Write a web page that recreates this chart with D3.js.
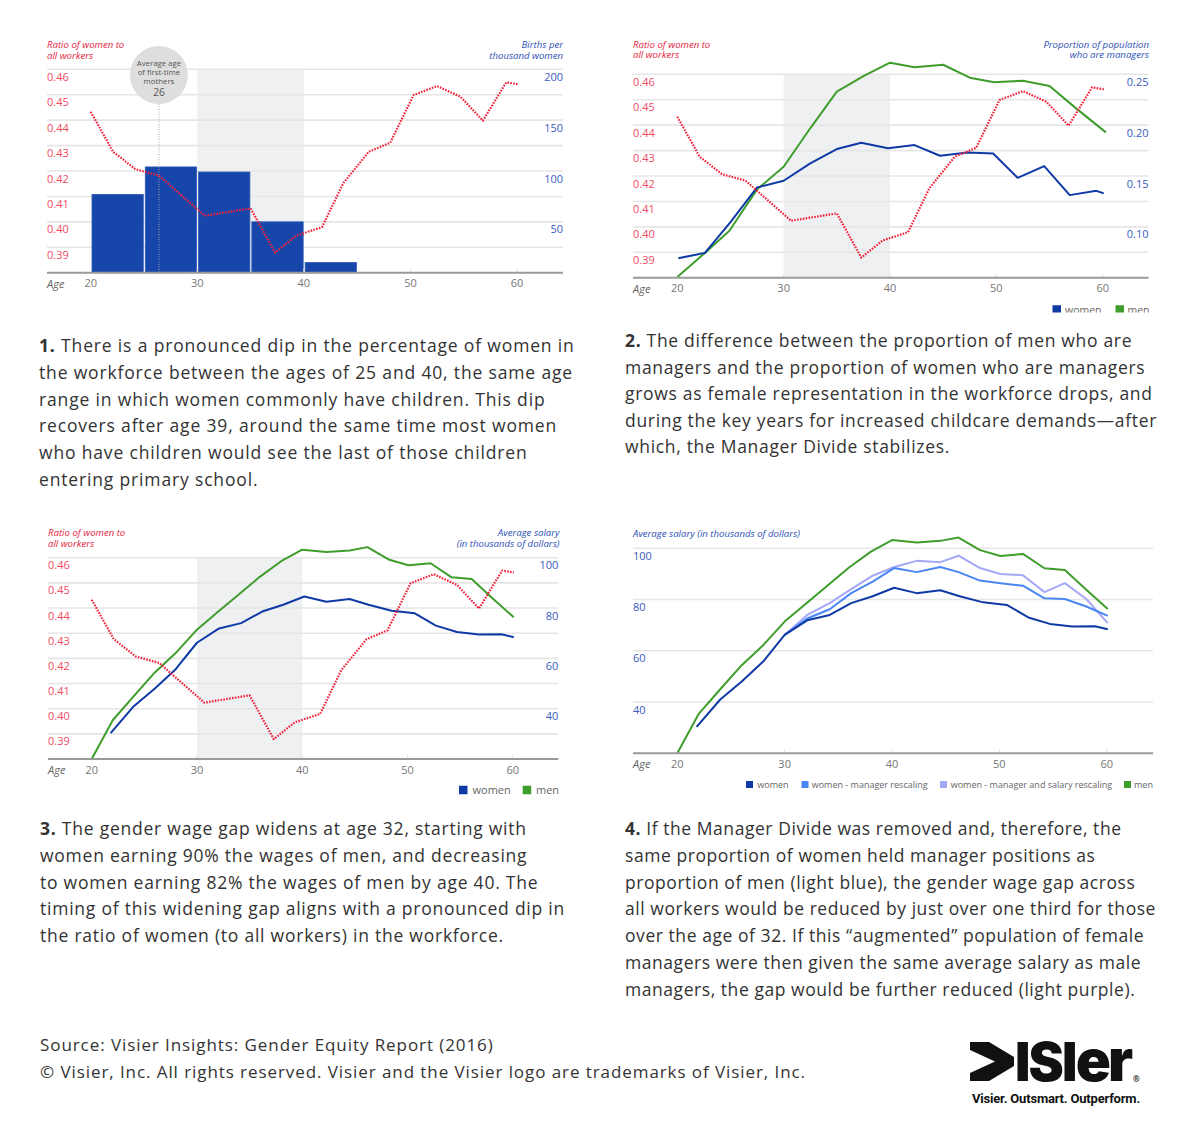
<!DOCTYPE html>
<html><head><meta charset="utf-8">
<script src="https://cdn.jsdelivr.net/npm/d3@7"></script>
<style>body{margin:0;background:#fff} svg{display:block}</style>
</head><body>
<svg id="c" width="1200" height="1134"></svg>
<script>
// ---------------- DATA ----------------
const ageTicks = [20, 30, 40, 50, 60];
const ratioTicks = [0.46, 0.45, 0.44, 0.43, 0.42, 0.41, 0.40, 0.39];
const ratioAges   = [20.0, 22.1, 24.2, 26.4, 30.7, 35.0, 37.3, 39.3, 41.7, 43.7, 46.1, 48.1, 50.3, 52.5, 54.7, 56.8, 59.0, 60.1];
const ratioValues = [0.4433, 0.4276, 0.4207, 0.4182, 0.4024, 0.4053, 0.3879, 0.3946, 0.3979, 0.4152, 0.4276, 0.4311, 0.4499, 0.4534, 0.4492, 0.4398, 0.4549, 0.4541];

const birthBinStart = [20, 25, 30, 35, 40];
const birthBinEnd   = [25, 30, 35, 40, 45];
const birthRates    = [77, 104, 99, 50, 10];
const birthTicks    = [200, 150, 100, 50];
const firstBirthAge = 26.4;
const firstBirthLabel = ["Average age", "of first-time", "mothers"];
const firstBirthValue = "26";

const mgrWomenAges   = [20.1, 22.6, 25.0, 27.5, 30.0, 32.5, 35.0, 37.3, 39.8, 42.3, 44.7, 47.3, 49.7, 52.0, 54.5, 56.9, 59.4, 60.1];
const mgrWomenValues = [0.0692, 0.0744, 0.1046, 0.1388, 0.1453, 0.1624, 0.1765, 0.1827, 0.1772, 0.1804, 0.1699, 0.1732, 0.1722, 0.1482, 0.1597, 0.1312, 0.1354, 0.1329];
const mgrMenAges     = [20.0, 22.6, 24.9, 27.5, 30.0, 32.5, 35.0, 37.5, 40.0, 42.3, 45.0, 47.5, 49.8, 52.5, 55.0, 57.5, 60.3];
const mgrMenValues   = [0.0508, 0.0744, 0.0961, 0.1368, 0.1591, 0.1969, 0.2329, 0.2483, 0.2614, 0.2569, 0.2594, 0.2467, 0.2421, 0.2437, 0.2385, 0.2165, 0.1929];
const mgrTicks = [0.25, 0.20, 0.15, 0.10];

const salWomenAges   = [21.8, 24.0, 26.0, 28.0, 30.0, 32.1, 34.2, 36.2, 38.2, 40.2, 42.3, 44.5, 46.3, 48.5, 50.7, 52.7, 54.7, 56.8, 58.9, 60.1];
const salWomenValues = [30.3, 41.0, 48.0, 55.8, 66.2, 71.9, 74.0, 78.6, 81.3, 84.6, 82.5, 83.6, 81.3, 78.9, 77.9, 73.0, 70.5, 69.5, 69.6, 68.4];
const salMenAges     = [20, 22, 24, 26, 28, 30, 32, 34, 36, 38, 40, 42.3, 44.5, 46.2, 48.2, 50.1, 52.2, 54.2, 56.1, 58.1, 60.1];
const salMenValues   = [20, 35.4, 45.0, 54.4, 62.2, 71.4, 78.5, 85.5, 92.5, 98.6, 103.2, 102.3, 102.9, 104.2, 99.3, 97.0, 97.8, 92.2, 91.5, 83.8, 76.3];
const salRescaleAges = [30, 32.1, 34.2, 36.2, 38.2, 40.2, 42.3, 44.5, 46.2, 48.2, 50.1, 52.2, 54.2, 56.1, 58.1, 60.1];
const salMgrRescale    = [66.2, 72.6, 76.2, 82.5, 87.0, 92.3, 90.7, 92.7, 90.7, 87.4, 86.4, 85.4, 80.5, 80.2, 77.3, 73.6];
const salMgrSalRescale = [66.2, 74.0, 78.6, 84.1, 89.3, 92.7, 95.1, 94.6, 97.1, 92.3, 90.0, 89.5, 82.9, 86.4, 80.2, 70.8];
const salaryTicks = [100, 80, 60, 40];

const para1 = ["There is a pronounced dip in the percentage of women in",
  "the workforce between the ages of 25 and 40, the same age",
  "range in which women commonly have children. This dip",
  "recovers after age 39, around the same time most women",
  "who have children would see the last of those children",
  "entering primary school."];
const para2 = ["The difference between the proportion of men who are",
  "managers and the proportion of women who are managers",
  "grows as female representation in the workforce drops, and",
  "during the key years for increased childcare demands\u2014after",
  "which, the Manager Divide stabilizes."];
const para3 = ["The gender wage gap widens at age 32, starting with",
  "women earning 90% the wages of men, and decreasing",
  "to women earning 82% the wages of men by age 40. The",
  "timing of this widening gap aligns with a pronounced dip in",
  "the ratio of women (to all workers) in the workforce."];
const para4 = ["If the Manager Divide was removed and, therefore, the",
  "same proportion of women held manager positions as",
  "proportion of men (light blue), the gender wage gap across",
  "all workers would be reduced by just over one third for those",
  "over the age of 32. If this \u201caugmented\u201d population of female",
  "managers were then given the same average salary as male",
  "managers, the gap would be further reduced (light purple)."];
const sourceLines = ["Source: Visier Insights: Gender Equity Report (2016)",
  "\u00a9 Visier, Inc. All rights reserved. Visier and the Visier logo are trademarks of Visier, Inc."];

// ---------------- STYLE ----------------
const C = {
  red: "#e4223c", redTick: "#ef4a5f", blueTitle: "#2c4fb3", blueTick: "#3a5cbf",
  grid: "#e6e6e6", base: "#9a9a9a", shade: "#eff0f2", axisText: "#777",
  women: "#0f3aa6", men: "#3f9d2c", mgr: "#4a86f3", mgrSal: "#a5a7f7",
  bar: "#1746ab", dots: "#f2213b", text: "#333"
};
const FONT = "'Open Sans', 'Noto Sans', sans-serif";
const svg = d3.select("#c").style("font-family", FONT);
svg.append("rect").attr("width", 1200).attr("height", 1134).attr("fill", "#fff");

function panel(o) {
  const g = svg.append("g");
  if (o.clipBottom) {
    const id = "clip" + Math.round(o.left);
    svg.append("defs").append("clipPath").attr("id", id)
      .append("rect").attr("x", 0).attr("y", 0).attr("width", 1200).attr("height", o.clipBottom);
    g.attr("clip-path", `url(#${id})`);
  }
  const x = d3.scaleLinear().domain([20, 60]).range(o.xr);
  const top = o.gridY[0], bottom = o.baseY;
  if (o.shade) {
    g.append("rect").attr("x", x(30)).attr("y", top).attr("width", x(40) - x(30))
      .attr("height", bottom - top).attr("fill", C.shade);
  }
  g.selectAll(null).data(o.gridY).join("line")
    .attr("x1", o.left).attr("x2", o.right).attr("y1", d => d).attr("y2", d => d)
    .attr("stroke", C.grid).attr("stroke-width", 1.6);
  return { g, x };
}
function finishAxis(p, o) {
  const { g, x } = p;
  g.selectAll(null).data(ageTicks.slice(1)).join("line")
    .attr("x1", d => x(d)).attr("x2", d => x(d)).attr("y1", o.baseY - 4).attr("y2", o.baseY)
    .attr("stroke", "#e0e0e0").attr("stroke-width", 1);
  g.append("line").attr("x1", o.left).attr("x2", o.right).attr("y1", o.baseY).attr("y2", o.baseY)
    .attr("stroke", C.base).attr("stroke-width", 2);
  g.selectAll(null).data(ageTicks).join("text")
    .attr("x", d => x(d)).attr("y", o.baseY + 14.5).attr("text-anchor", "middle")
    .attr("font-size", 11).attr("fill", C.axisText).text(d => d);
  g.append("text").attr("x", o.left).attr("y", o.baseY + 15).attr("font-size", 11)
    .attr("font-style", "italic").attr("fill", "#666").text("Age");
}
function leftTicks(g, o, scale, ticks, fmt, color) {
  g.selectAll(null).data(ticks).join("text")
    .attr("x", o.left).attr("y", d => scale(d) + 11.5).attr("font-size", 11)
    .attr("fill", color).text(fmt);
}
function rightTicks(g, o, scale, ticks, fmt, color) {
  g.selectAll(null).data(ticks).join("text")
    .attr("x", o.right).attr("y", d => scale(d) + 11.5).attr("font-size", 11)
    .attr("text-anchor", "end").attr("fill", color).text(fmt);
}
function title(g, x, y, lines, color, anchor) {
  lines.forEach((l, i) => g.append("text").attr("x", x).attr("y", y + i * 10.8)
    .attr("font-size", 9.6).attr("font-style", "italic").attr("fill", color)
    .attr("text-anchor", anchor || "start").text(l));
}
function lineSeries(g, x, y, ages, vals, color, width, dash) {
  const data = ages.map((a, i) => [a, vals[i]]);
  const p = g.append("path").datum(data)
    .attr("d", d3.line().x(d => x(d[0])).y(d => y(d[1])))
    .attr("fill", "none").attr("stroke", color).attr("stroke-width", width)
    .attr("stroke-linejoin", "round");
  if (dash) p.attr("stroke-dasharray", dash);
  return p;
}
function legend(g, items, cy, size, fontSize) {
  items.forEach(it => {
    g.append("rect").attr("x", it.x).attr("y", cy - size / 2 - 0.5).attr("width", size).attr("height", size).attr("fill", it.color);
    g.append("text").attr("x", it.tx).attr("y", cy + fontSize * 0.36).attr("font-size", fontSize)
      .attr("fill", "#666").text(it.label);
  });
}
const fmt2 = d => d.toFixed(2);

// ---------- Chart 1 ----------
{
  const o = { left: 47, right: 563, xr: [90.7, 517], baseY: 272.7, gridY: [], shade: true };
  const yL = d3.scaleLinear().domain([0.38, 0.46]).range([272.7, 69.3]);
  const yR = d3.scaleLinear().domain([0, 200]).range([272.7, 69.3]);
  o.gridY = ratioTicks.map(yL);
  const p = panel(o); const { g, x } = p;
  g.selectAll(null).data(birthRates).join("rect")
    .attr("x", (d, i) => x(birthBinStart[i]) + 1.3)
    .attr("width", (d, i) => x(birthBinEnd[i]) - x(birthBinStart[i]) - 2)
    .attr("y", d => yR(d)).attr("height", d => yR(0) - yR(d))
    .attr("fill", C.bar).attr("stroke", "#2c58b8").attr("stroke-width", 0.8);
  const cx = x(firstBirthAge);
  g.append("line").attr("x1", cx).attr("x2", cx).attr("y1", 104).attr("y2", 272)
    .attr("stroke", "#a8a8a8").attr("stroke-width", 1).attr("stroke-dasharray", "1,1.5");
  g.append("circle").attr("cx", cx).attr("cy", 75).attr("r", 29).attr("fill", "#dedede");
  firstBirthLabel.forEach((l, i) => g.append("text").attr("x", cx).attr("y", 66 + i * 8.8)
    .attr("text-anchor", "middle").attr("font-size", 7.8).attr("fill", "#555").text(l));
  g.append("text").attr("x", cx).attr("y", 95.5).attr("text-anchor", "middle")
    .attr("font-size", 10).attr("fill", "#555").text(firstBirthValue);
  lineSeries(g, x, yL, ratioAges, ratioValues, C.dots, 2.2, "1.6,1.3");
  finishAxis(p, o);
  leftTicks(g, o, yL, ratioTicks, fmt2, C.redTick);
  rightTicks(g, o, yR, birthTicks, d => d, C.blueTick);
  title(g, 47, 48, ["Ratio of women to", "all workers"], C.red);
  title(g, 563, 48, ["Births per", "thousand women"], C.blueTitle, "end");
}

// ---------- Chart 2 ----------
{
  const o = { left: 633, right: 1148.5, xr: [677.3, 1102.7], baseY: 277.7, gridY: [], shade: true, clipBottom: 312.5 };
  const yL = d3.scaleLinear().domain([0.38, 0.46]).range([277.7, 74.3]);
  const yR = d3.scaleLinear().domain([0.05, 0.25]).range([277.7, 74.3]);
  o.gridY = ratioTicks.map(yL);
  const p = panel(o); const { g, x } = p;
  lineSeries(g, x, yR, mgrMenAges, mgrMenValues, C.men, 2);
  lineSeries(g, x, yR, mgrWomenAges, mgrWomenValues, C.women, 2);
  lineSeries(g, x, yL, ratioAges, ratioValues, C.dots, 2.2, "1.6,1.3");
  finishAxis(p, o);
  leftTicks(g, o, yL, ratioTicks, fmt2, C.redTick);
  rightTicks(g, o, yR, mgrTicks, fmt2, C.blueTick);
  title(g, 633, 47.5, ["Ratio of women to", "all workers"], C.red);
  title(g, 1149, 47.5, ["Proportion of population", "who are managers"], C.blueTitle, "end");
  legend(g, [{ x: 1052.5, tx: 1065, color: C.women, label: "women" },
             { x: 1115.5, tx: 1127.5, color: C.men, label: "men" }], 310, 8.5, 10.5);
}

// ---------- Chart 3 ----------
{
  const o = { left: 48, right: 558.3, xr: [91.7, 512.7], baseY: 759, gridY: [], shade: true };
  const yL = d3.scaleLinear().domain([0.38, 0.46]).range([759, 557.7]);
  const yR = d3.scaleLinear().domain([20, 100]).range([759, 557.7]);
  o.gridY = ratioTicks.map(yL);
  const p = panel(o); const { g, x } = p;
  lineSeries(g, x, yR, salMenAges, salMenValues, C.men, 2);
  lineSeries(g, x, yR, salWomenAges, salWomenValues, C.women, 2);
  lineSeries(g, x, yL, ratioAges, ratioValues, C.dots, 2.2, "1.6,1.3");
  finishAxis(p, o);
  leftTicks(g, o, yL, ratioTicks, fmt2, C.redTick);
  rightTicks(g, o, yR, salaryTicks, d => d, C.blueTick);
  title(g, 48, 536, ["Ratio of women to", "all workers"], C.red);
  title(g, 559.5, 536, ["Average salary", "(in thousands of dollars)"], C.blueTitle, "end");
  legend(g, [{ x: 459, tx: 472.5, color: C.women, label: "women" },
             { x: 522.7, tx: 536, color: C.men, label: "men" }], 790.5, 8.5, 11);
}

// ---------- Chart 4 ----------
{
  const o = { left: 633, right: 1153, xr: [677.3, 1106.7], baseY: 753.3, gridY: [], shade: false };
  const y = d3.scaleLinear().domain([20, 100]).range([753.3, 548.3]);
  o.gridY = salaryTicks.map(y);
  const p = panel(o); const { g, x } = p;
  lineSeries(g, x, y, salMenAges, salMenValues, C.men, 2);
  lineSeries(g, x, y, salRescaleAges, salMgrSalRescale, C.mgrSal, 2);
  lineSeries(g, x, y, salRescaleAges, salMgrRescale, C.mgr, 2);
  lineSeries(g, x, y, salWomenAges, salWomenValues, C.women, 2);
  finishAxis(p, o);
  leftTicks(g, o, y, salaryTicks, d => d, C.blueTick);
  title(g, 633, 536.5, ["Average salary (in thousands of dollars)"], C.blueTitle);
  legend(g, [{ x: 746, tx: 757.3, color: C.women, label: "women" },
             { x: 801.5, tx: 811.7, color: C.mgr, label: "women - manager rescaling" },
             { x: 940, tx: 950.7, color: C.mgrSal, label: "women - manager and salary rescaling" },
             { x: 1124, tx: 1134, color: C.men, label: "men" }], 785, 7, 9);
}

// ---------- Paragraphs ----------
function para(num, lines, x, y0, lh, targetIdx, targetW) {
  const t = svg.append("text").attr("x", x).attr("y", y0).attr("font-size", 17.5).attr("fill", C.text);
  lines.forEach((l, i) => {
    const line = t.append("tspan").attr("x", x).attr("y", y0 + i * lh);
    if (i === 0) line.append("tspan").attr("font-weight", 700).text(num + ". ");
    line.append("tspan").text(l);
  });
  const tmp = svg.append("text").attr("font-size", 17.5).text((targetIdx === 0 ? num + ". " : "") + lines[targetIdx]);
  const w = tmp.node().getComputedTextLength();
  const n = lines[targetIdx].length + (targetIdx === 0 ? 3 : 0);
  tmp.remove();
  t.attr("letter-spacing", ((targetW - w) / n).toFixed(3));
}
para(1, para1, 39, 352, 26.75, 1, 534);
para(2, para2, 625, 347, 26.6, 3, 532);
para(3, para3, 40, 835, 26.75, 3, 525);
para(4, para4, 625, 835, 26.75, 3, 531);

{
  const t = svg.append("text").attr("font-size", 17).attr("fill", C.text);
  sourceLines.forEach((l, i) => t.append("tspan").attr("x", 40).attr("y", 1051 + i * 27).text(l));
  const tmp = svg.append("text").attr("font-size", 17).text(sourceLines[1]);
  const w = tmp.node().getComputedTextLength(); tmp.remove();
  t.attr("letter-spacing", ((766 - w) / sourceLines[1].length).toFixed(3));
}

// ---------- Logo ----------
{
  const g = svg.append("g");
  g.append("polygon").attr("points", "970,1042 989,1042 1014,1057 1014,1066 989,1081 970,1081 970,1073 995,1061.5 970,1050")
    .attr("fill", "#111");
  const t = g.append("text").attr("x", 1015).attr("y", 1080.5).attr("font-family", "Inter, 'Open Sans', sans-serif")
    .attr("font-weight", 900).attr("fill", "#111").attr("font-size", 53).attr("letter-spacing", -1.8);
  t.append("tspan").text("ISI");
  t.append("tspan").attr("font-size", 58).attr("letter-spacing", -3).text("er");
  g.append("text").attr("x", 1133).attr("y", 1082).attr("font-size", 8).attr("font-weight", 700).attr("fill", "#111").text("\u00ae");
  const tag = g.append("text").attr("x", 972).attr("y", 1102.5).attr("font-family", "Roboto, 'Open Sans', sans-serif")
    .attr("font-weight", 700).attr("font-size", 13).attr("fill", "#111").text("Visier. Outsmart. Outperform.");
  const w = tag.node().getComputedTextLength();
  tag.attr("letter-spacing", ((168 - w) / 29).toFixed(3));
}
</script>
</body></html>
